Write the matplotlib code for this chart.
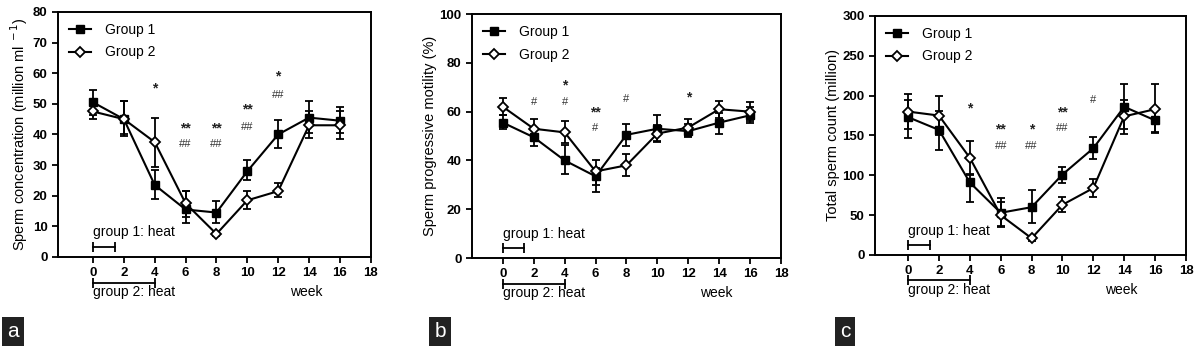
import matplotlib
matplotlib.use("Agg")
import matplotlib.pyplot as plt
import matplotlib.transforms as mtransforms
from matplotlib.lines import Line2D

plt.rcParams['font.family'] = ['Liberation Sans', 'DejaVu Sans']

weeks = [0, 2, 4, 6, 8, 10, 12, 14, 16]

# panel a: sperm concentration
conc_g1 = [50.5, 45.0, 23.5, 15.5, 14.5, 28.0, 40.0, 45.5, 44.5]
conc_g1_lo = [46.5, 39.5, 18.8, 13.0, 11.0, 25.0, 35.5, 40.5, 40.5]
conc_g1_hi = [54.5, 51.0, 28.5, 21.5, 18.2, 31.5, 44.8, 50.8, 49.0]
conc_g2 = [47.5, 45.0, 37.5, 17.5, 7.5, 18.5, 21.5, 43.0, 43.0]
conc_g2_lo = [45.0, 40.0, 29.5, 11.0, 7.0, 15.5, 19.5, 39.0, 38.5]
conc_g2_hi = [50.5, 51.0, 45.5, 21.5, 8.0, 21.5, 24.2, 47.5, 47.5]
conc_marks = [(4, 56, '*'), (6, 43, '**'), (6, 37, '##'), (8, 43, '**'), (8, 37, '##'),
              (10, 49, '**'), (10, 42.5, '##'), (12, 60, '*'), (12, 53, '##')]

# panel b: progressive motility
mot_g1 = [55.5, 49.5, 40.0, 33.5, 50.5, 53.0, 52.0, 55.5, 58.5]
mot_g1_lo = [53.0, 46.0, 34.5, 27.0, 46.0, 48.0, 49.5, 51.0, 55.5]
mot_g1_hi = [58.5, 53.0, 46.5, 37.0, 55.0, 58.5, 55.0, 59.5, 62.0]
mot_g2 = [62.0, 53.0, 51.5, 35.5, 38.0, 51.0, 53.5, 61.0, 60.0]
mot_g2_lo = [58.5, 49.0, 47.0, 30.0, 33.5, 47.5, 50.0, 57.5, 56.0]
mot_g2_hi = [65.5, 57.0, 56.0, 40.0, 42.5, 54.5, 57.0, 64.5, 64.0]
mot_marks = [(2, 64, '#'), (4, 72, '*'), (4, 64, '#'), (6, 61, '**'), (6, 53.5, '#'),
             (8, 65, '#'), (12, 67, '*')]

# panel c: total sperm count
cnt_g1 = [173, 157, 91, 53, 60, 101, 134, 186, 169]
cnt_g1_lo = [147, 132, 66, 35, 40, 90, 121, 158, 154]
cnt_g1_hi = [195, 181, 102, 66, 81, 111, 148, 215, 184]
cnt_g2 = [180, 175, 122, 50, 21, 63, 84, 174, 183]
cnt_g2_lo = [158, 150, 101, 37, 18, 54, 73, 152, 153]
cnt_g2_hi = [202, 200, 143, 72, 24, 73, 96, 195, 215]
cnt_marks = [(4, 187, '*'), (6, 161, '**'), (6, 137, '##'), (8, 161, '*'), (8, 137, '##'),
             (10, 183, '**'), (10, 159, '##'), (12, 195, '#')]


def draw_panel(ax, g1, g1_lo, g1_hi, g2, g2_lo, g2_hi, marks, ymax, ystep, ylabel, xmin):
    err1 = [[v - l for v, l in zip(g1, g1_lo)], [h - v for v, h in zip(g1, g1_hi)]]
    err2 = [[v - l for v, l in zip(g2, g2_lo)], [h - v for v, h in zip(g2, g2_hi)]]
    ax.errorbar(weeks, g1, yerr=err1, color='black', marker='s', markersize=5.5,
                linewidth=1.5, elinewidth=1.3, capsize=3, capthick=1.3, zorder=3)
    ax.errorbar(weeks, g2, yerr=err2, color='black', marker='D', markersize=5.5,
                markerfacecolor='white', markeredgewidth=1.3,
                linewidth=1.5, elinewidth=1.3, capsize=3, capthick=1.3, zorder=4)
    for x, y, s in marks:
        if '*' in s:
            ax.text(x, y - ymax * 0.012, s, ha='center', va='center', fontsize=10,
                    fontweight='bold', color='#222222')
        else:
            ax.text(x, y, s, ha='center', va='center', fontsize=8, color='#333333')

    ax.set_xlim(xmin, 18)
    ax.set_ylim(0, ymax)
    ax.set_xticks(range(0, 19, 2))
    ax.set_yticks(range(0, ymax + 1, ystep))
    ax.tick_params(direction='out', length=4, width=1.3, labelsize=9.5)
    for lab in ax.get_xticklabels() + ax.get_yticklabels():
        lab.set_fontweight('bold')
    for sp in ax.spines.values():
        sp.set_linewidth(1.4)
    ax.set_ylabel(ylabel, fontsize=10.5, labelpad=2)

    handles = [Line2D([], [], color='black', marker='s', markersize=5.5, lw=1.5),
               Line2D([], [], color='black', marker='D', markersize=5.5, lw=1.5,
                      markerfacecolor='white', markeredgewidth=1.3)]
    ax.legend(handles, ['Group 1', 'Group 2'], loc='upper left', frameon=False, fontsize=10,
              handlelength=1.6, handletextpad=1.0, borderaxespad=0.4, labelspacing=0.6)

    # heat periods
    tr = mtransforms.blended_transform_factory(ax.transData, ax.transAxes)
    ax.plot([0, 1.4], [0.04, 0.04], color='black', lw=1.3, transform=tr, clip_on=False)
    ax.plot([0, 1.4], [0.04, 0.04], '|', color='black', ms=7, mew=1.3, transform=tr, clip_on=False)
    ax.text(0, 0.10, 'group 1: heat', transform=tr, ha='left', va='center', fontsize=10)
    ax.plot([0, 4], [-0.105, -0.105], color='black', lw=1.3, transform=tr, clip_on=False)
    ax.plot([0, 4], [-0.105, -0.105], '|', color='black', ms=7, mew=1.3, transform=tr, clip_on=False)
    ax.text(0, -0.145, 'group 2: heat', transform=tr, ha='left', va='center', fontsize=10)
    ax.text(13.8, -0.145, 'week', transform=tr, ha='center', va='center', fontsize=10)


fig = plt.figure(figsize=(12, 3.52), dpi=100)
ax_a = fig.add_axes([0.0483, 0.270, 0.2607, 0.696])
ax_b = fig.add_axes([0.3933, 0.267, 0.2575, 0.693])
ax_c = fig.add_axes([0.7292, 0.2756, 0.2591, 0.679])

draw_panel(ax_a, conc_g1, conc_g1_lo, conc_g1_hi, conc_g2, conc_g2_lo, conc_g2_hi,
           conc_marks, 80, 10, 'Sperm concentration (million ml$^{\\ -1}$)', -2.27)
draw_panel(ax_b, mot_g1, mot_g1_lo, mot_g1_hi, mot_g2, mot_g2_lo, mot_g2_hi,
           mot_marks, 100, 20, 'Sperm progressive motility (%)', -2.0)
draw_panel(ax_c, cnt_g1, cnt_g1_lo, cnt_g1_hi, cnt_g2, cnt_g2_lo, cnt_g2_hi,
           cnt_marks, 300, 50, 'Total sperm count (million)', -2.14)

for xpos, letter in [(0.0105, 'a'), (0.3667, 'b'), (0.7042, 'c')]:
    fig.text(xpos, 0.058, letter, color='white', fontsize=15, ha='center', va='center',
             bbox=dict(boxstyle='square,pad=0.25', facecolor='#222222', edgecolor='none'))

fig.savefig('out.png', dpi=100)
